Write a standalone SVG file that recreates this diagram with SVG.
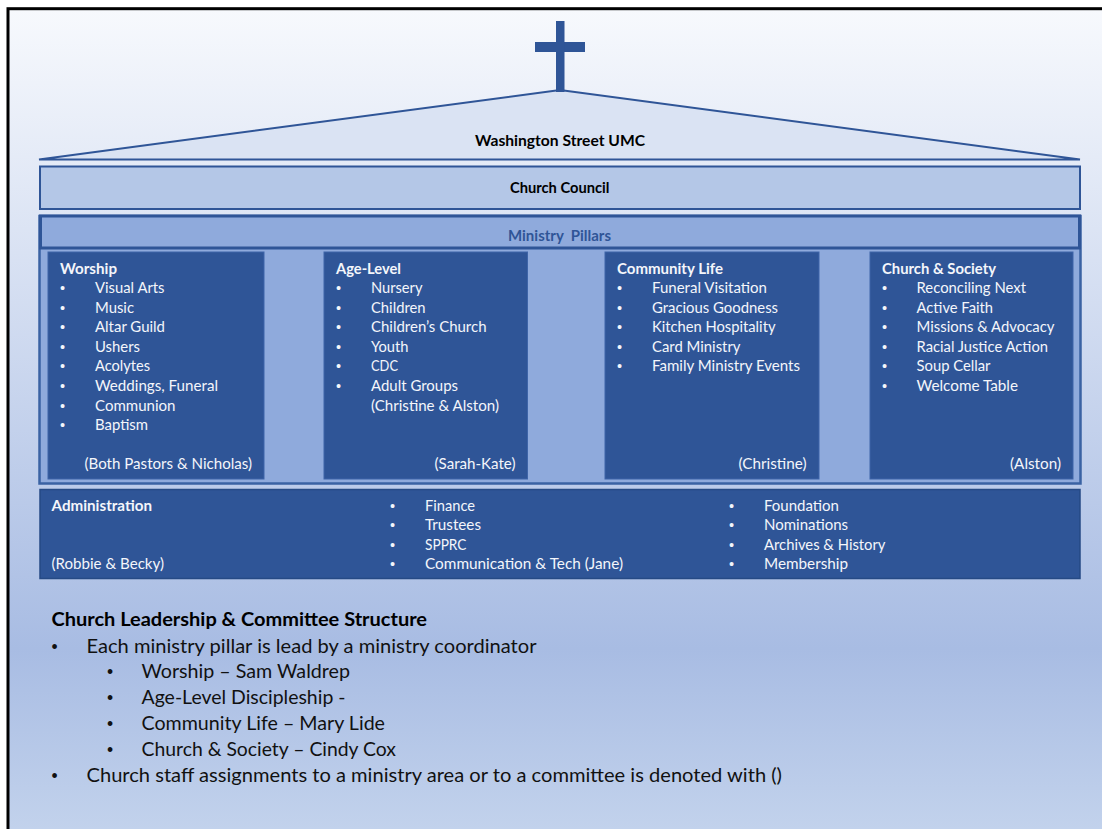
<svg xmlns="http://www.w3.org/2000/svg" width="1102" height="829" viewBox="0 0 1102 829">
<style>
text{font-family:"Lato","Carlito","Open Sans",sans-serif;font-size:15px;fill:#f4f6fb}
.b{font-weight:700}
.k{fill:#000;font-weight:700}
.d{fill:#111;font-size:19px}
.u{font-family:"Liberation Sans",Arial,sans-serif;font-size:14.5px}
.v{font-family:"Liberation Sans",Arial,sans-serif;font-size:17.5px;fill:#111}
.box{fill:#2f5597;stroke:#3f65a8;stroke-width:1}
.line{stroke:#2f5597;fill:none;stroke-width:2}
</style>
<defs>
<linearGradient id="bg" gradientUnits="userSpaceOnUse" x1="0" y1="10" x2="0" y2="829">
<stop offset="0" stop-color="#f7f9fd"/>
<stop offset="0.78" stop-color="#a8bce3"/>
<stop offset="1" stop-color="#c2d2ec"/>
</linearGradient>
</defs>
<rect id="slide" x="8" y="8.7" width="1200" height="1000" fill="url(#bg)" stroke="#000" stroke-width="3"/>
<g id="church-roof">
<polygon points="39,159.5 560,90 1080,159.5" fill="#dae3f3" stroke="#2f5597" stroke-width="2"/>
<rect x="535" y="42" width="50" height="10" fill="#2f5597"/>
<rect x="556" y="21" width="8.500" height="71" fill="#2f5597"/>
<text class="k" x="475" y="146" textLength="170" lengthAdjust="spacingAndGlyphs">Washington Street UMC</text>
</g>
<g id="church-council">
<rect x="40" y="166.500" width="1040" height="42.500" class="line" style="fill:#b4c7e7"/>
<text class="k" x="510" y="193" textLength="99.500" lengthAdjust="spacingAndGlyphs">Church Council</text>
</g>
<g id="ministry-pillars">
<rect x="39.500" y="216" width="1041" height="267.500" style="fill:#8faadc;stroke:#3a62a3;stroke-width:2.500"/>
<rect x="40.500" y="216" width="1039" height="32" style="fill:#8faadc;stroke:#2f5597;stroke-width:3"/>
<text class="b" style="fill:#2f5597" x="508" y="241" textLength="103" lengthAdjust="spacingAndGlyphs" xml:space="preserve">Ministry  Pillars</text>
</g>
<g id="worship">
<rect class="box" x="48" y="252" width="216" height="227"/>
<text class="b" x="60" y="274" textLength="57" lengthAdjust="spacingAndGlyphs">Worship</text>
<text class="u" x="60" y="293">•</text><text x="95" y="293" textLength="69.500" lengthAdjust="spacingAndGlyphs">Visual Arts</text>
<text class="u" x="60" y="313">•</text><text x="95" y="313" textLength="39" lengthAdjust="spacingAndGlyphs">Music</text>
<text class="u" x="60" y="332">•</text><text x="95" y="332" textLength="70" lengthAdjust="spacingAndGlyphs">Altar Guild</text>
<text class="u" x="60" y="352">•</text><text x="95" y="352" textLength="45" lengthAdjust="spacingAndGlyphs">Ushers</text>
<text class="u" x="60" y="371">•</text><text x="95" y="371" textLength="55" lengthAdjust="spacingAndGlyphs">Acolytes</text>
<text class="u" x="60" y="391">•</text><text x="95" y="391" textLength="123" lengthAdjust="spacingAndGlyphs">Weddings, Funeral</text>
<text class="u" x="60" y="411">•</text><text x="95" y="411" textLength="80.500" lengthAdjust="spacingAndGlyphs">Communion</text>
<text class="u" x="60" y="430">•</text><text x="95" y="430" textLength="53" lengthAdjust="spacingAndGlyphs">Baptism</text>
<text x="84.500" y="469" textLength="167.500" lengthAdjust="spacingAndGlyphs">(Both Pastors &amp; Nicholas)</text>
</g>
<g id="age-level">
<rect class="box" x="324" y="252" width="203.500" height="227"/>
<text class="b" x="336" y="274" textLength="65" lengthAdjust="spacingAndGlyphs">Age-Level</text>
<text class="u" x="336" y="293">•</text><text x="371" y="293" textLength="51.500" lengthAdjust="spacingAndGlyphs">Nursery</text>
<text class="u" x="336" y="313">•</text><text x="371" y="313" textLength="54.500" lengthAdjust="spacingAndGlyphs">Children</text>
<text class="u" x="336" y="332">•</text><text x="371" y="332" textLength="115.500" lengthAdjust="spacingAndGlyphs">Children’s Church</text>
<text class="u" x="336" y="352">•</text><text x="371" y="352" textLength="37.500" lengthAdjust="spacingAndGlyphs">Youth</text>
<text class="u" x="336" y="371">•</text><text x="371" y="371" textLength="27" lengthAdjust="spacingAndGlyphs">CDC</text>
<text class="u" x="336" y="391">•</text><text x="371" y="391" textLength="87" lengthAdjust="spacingAndGlyphs">Adult Groups</text>
<text x="371" y="411" textLength="128" lengthAdjust="spacingAndGlyphs">(Christine &amp; Alston)</text>
<text x="434.500" y="469" textLength="81" lengthAdjust="spacingAndGlyphs">(Sarah-Kate)</text>
</g>
<g id="community-life">
<rect class="box" x="605" y="252" width="214" height="227"/>
<text class="b" x="617" y="274" textLength="106" lengthAdjust="spacingAndGlyphs">Community Life</text>
<text class="u" x="617" y="293">•</text><text x="652" y="293" textLength="115" lengthAdjust="spacingAndGlyphs">Funeral Visitation</text>
<text class="u" x="617" y="313">•</text><text x="652" y="313" textLength="126" lengthAdjust="spacingAndGlyphs">Gracious Goodness</text>
<text class="u" x="617" y="332">•</text><text x="652" y="332" textLength="123.500" lengthAdjust="spacingAndGlyphs">Kitchen Hospitality</text>
<text class="u" x="617" y="352">•</text><text x="652" y="352" textLength="88.500" lengthAdjust="spacingAndGlyphs">Card Ministry</text>
<text class="u" x="617" y="371">•</text><text x="652" y="371" textLength="148" lengthAdjust="spacingAndGlyphs">Family Ministry Events</text>
<text x="738.500" y="469" textLength="68" lengthAdjust="spacingAndGlyphs">(Christine)</text>
</g>
<g id="church-society">
<rect class="box" x="870" y="252" width="203" height="227"/>
<text class="b" x="882" y="274" textLength="114" lengthAdjust="spacingAndGlyphs">Church &amp; Society</text>
<text class="u" x="882" y="293">•</text><text x="916.500" y="293" textLength="109.500" lengthAdjust="spacingAndGlyphs">Reconciling Next</text>
<text class="u" x="882" y="313">•</text><text x="916.500" y="313" textLength="76.500" lengthAdjust="spacingAndGlyphs">Active Faith</text>
<text class="u" x="882" y="332">•</text><text x="916.500" y="332" textLength="138" lengthAdjust="spacingAndGlyphs">Missions &amp; Advocacy</text>
<text class="u" x="882" y="352">•</text><text x="916.500" y="352" textLength="131.500" lengthAdjust="spacingAndGlyphs">Racial Justice Action</text>
<text class="u" x="882" y="371">•</text><text x="916.500" y="371" textLength="74" lengthAdjust="spacingAndGlyphs">Soup Cellar</text>
<text class="u" x="882" y="391">•</text><text x="916.500" y="391" textLength="101.500" lengthAdjust="spacingAndGlyphs">Welcome Table</text>
<text x="1010" y="469" textLength="51" lengthAdjust="spacingAndGlyphs">(Alston)</text>
</g>
<g id="administration">
<rect x="40" y="489.500" width="1040" height="89" style="fill:#2f5597;stroke:#264a85;stroke-width:1.500"/>
<text class="b" x="51.500" y="511" textLength="100.500" lengthAdjust="spacingAndGlyphs">Administration</text>
<text x="51.500" y="569" textLength="112.500" lengthAdjust="spacingAndGlyphs">(Robbie &amp; Becky)</text>
<text class="u" x="390" y="511">•</text><text x="425" y="511" textLength="50" lengthAdjust="spacingAndGlyphs">Finance</text>
<text class="u" x="390" y="530">•</text><text x="425" y="530" textLength="56" lengthAdjust="spacingAndGlyphs">Trustees</text>
<text class="u" x="390" y="550">•</text><text x="425" y="550" textLength="41.500" lengthAdjust="spacingAndGlyphs">SPPRC</text>
<text class="u" x="390" y="569">•</text><text x="425" y="569" textLength="198" lengthAdjust="spacingAndGlyphs">Communication &amp; Tech (Jane)</text>
<text class="u" x="729" y="511">•</text><text x="764" y="511" textLength="75" lengthAdjust="spacingAndGlyphs">Foundation</text>
<text class="u" x="729" y="530">•</text><text x="764" y="530" textLength="84" lengthAdjust="spacingAndGlyphs">Nominations</text>
<text class="u" x="729" y="550">•</text><text x="764" y="550" textLength="121.500" lengthAdjust="spacingAndGlyphs">Archives &amp; History</text>
<text class="u" x="729" y="569">•</text><text x="764" y="569" textLength="84" lengthAdjust="spacingAndGlyphs">Membership</text>
</g>
<g id="notes">
<text class="d b" style="fill:#000" x="51.500" y="626" textLength="375.500" lengthAdjust="spacingAndGlyphs">Church Leadership &amp; Committee Structure</text>
<text class="v" x="51.500" y="653">•</text><text class="d" x="86.500" y="653" textLength="450" lengthAdjust="spacingAndGlyphs">Each ministry pillar is lead by a ministry coordinator</text>
<text class="v" x="107" y="678">•</text><text class="d" x="141.500" y="678" textLength="208.500" lengthAdjust="spacingAndGlyphs">Worship – Sam Waldrep</text>
<text class="v" x="107" y="704">•</text><text class="d" x="141.500" y="704" textLength="204" lengthAdjust="spacingAndGlyphs">Age-Level Discipleship -</text>
<text class="v" x="107" y="730">•</text><text class="d" x="141.500" y="730" textLength="243.500" lengthAdjust="spacingAndGlyphs">Community Life – Mary Lide</text>
<text class="v" x="107" y="756">•</text><text class="d" x="141.500" y="756" textLength="254.500" lengthAdjust="spacingAndGlyphs">Church &amp; Society – Cindy Cox</text>
<text class="v" x="51.500" y="782">•</text><text class="d" x="86.500" y="782" textLength="695.500" lengthAdjust="spacingAndGlyphs">Church staff assignments to a ministry area or to a committee is denoted with ()</text>
</g>
</svg>
